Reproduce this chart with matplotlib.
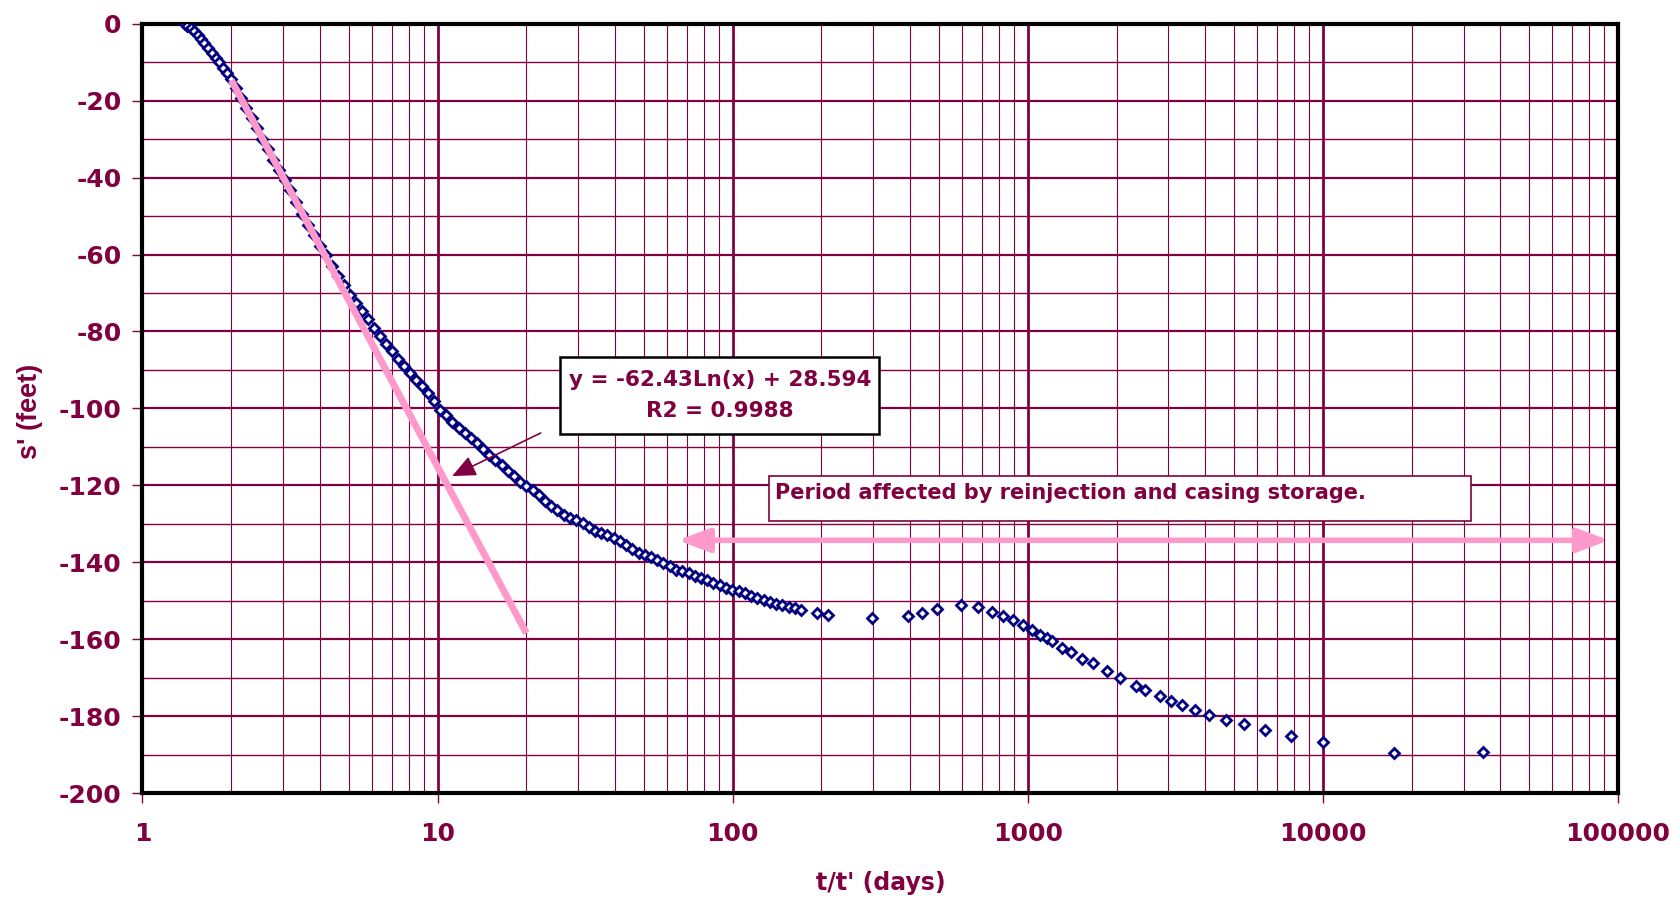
import numpy as np
import matplotlib.pyplot as plt
from matplotlib.patches import FancyArrowPatch, Rectangle
from matplotlib.ticker import FixedLocator, FixedFormatter, LogLocator, MultipleLocator, NullFormatter

plt.rcParams['font.family'] = ['DejaVu Sans']
plt.rcParams['font.weight'] = 'bold'
plt.rcParams['axes.unicode_minus'] = False

#%% data: t/t' (days) vs residual drawdown s' (feet)
t_ratio = [
    1.39, 1.42, 1.46, 1.50, 1.54, 1.58, 1.62, 1.67, 1.72, 1.77,
    1.82, 1.88, 1.94, 2.00, 2.08, 2.16, 2.25, 2.35, 2.45, 2.55,
    2.66, 2.78, 2.90, 3.03, 3.17, 3.32, 3.48, 3.64, 3.81, 3.99,
    4.18, 4.38, 4.59, 4.81, 5.04, 5.28, 5.53, 5.80, 6.08, 6.37,
    6.68, 7.00, 7.34, 7.70, 8.07, 8.46, 8.87, 9.30, 9.75, 10.2,
    10.7, 11.2, 11.8, 12.4, 13.0, 13.6, 14.3, 15.0, 15.7, 16.5,
    17.3, 18.2, 19.1, 20.0, 21.0, 22.0, 23.1, 24.3, 25.5, 26.8,
    28.1, 29.5, 31.0, 32.5, 34.1, 35.8, 37.6, 39.5, 41.5, 43.5,
    45.7, 48.0, 50.4, 52.9, 55.5, 58.3, 61.2, 64.3, 67.5, 70.9,
    74.4, 78.1, 82.0, 86.1, 90.4, 94.9, 99.7, 104.7, 109.9, 115.4,
    121.2, 127.3, 133.6, 140.3, 147.3, 154.7, 162.4, 170.5,
    192.6, 210.9, 295.8, 393.9, 437, 491, 593.7, 676, 758, 826,
    889, 961, 1031, 1100, 1167, 1205, 1303, 1400, 1523, 1660,
    1851, 2053, 2332, 2505, 2803, 3050, 3344, 3689, 4116, 4688,
    5399, 6387, 7791, 10016, 17481, 35044,
]
s_resid = [
    0.0, -0.5, -1.1, -2.0, -2.9, -4.0, -5.0, -6.3, -7.5, -8.8,
    -10.0, -11.5, -12.9, -14.3, -16.8, -19.3, -21.9, -24.6, -27.2, -29.9,
    -32.6, -35.3, -37.9, -40.5, -43.3, -46.3, -49.4, -52.2, -55.0, -57.7,
    -60.2, -63.0, -65.7, -68.0, -70.4, -72.6, -74.6, -76.8, -79.0, -81.1,
    -83.3, -85.2, -87.2, -89.0, -90.9, -92.6, -94.2, -96.0, -98.0, -100.4,
    -101.8, -103.5, -105.0, -106.5, -107.8, -109.0, -110.6, -112.0, -113.3, -114.8,
    -116.2, -117.6, -119.1, -120.2, -121.3, -122.6, -124.0, -125.3, -126.5, -127.6,
    -128.5, -129.1, -129.8, -130.8, -131.9, -132.4, -132.8, -133.6, -134.6, -135.5,
    -136.6, -137.5, -138.1, -138.7, -139.5, -140.3, -141.1, -141.9, -142.4, -142.9,
    -143.6, -144.1, -144.7, -145.4, -146.0, -146.6, -147.2, -147.6, -148.1, -148.9,
    -149.4, -149.9, -150.3, -150.8, -151.2, -151.6, -152.0, -152.4,
    -153.3, -153.7, -154.6, -153.9, -153.2, -152.2, -151.1, -151.7, -153.0, -153.9,
    -155.0, -156.3, -157.5, -158.8, -159.8, -160.4, -162.3, -163.3, -165.2, -166.3,
    -168.3, -170.0, -172.1, -173.3, -174.8, -176.1, -177.2, -178.5, -179.8, -181.0,
    -182.1, -183.7, -185.1, -186.8, -189.6, -189.3,
]

# excel log trendline on the early straight part
fit_slope = -62.43
fit_icept = 28.594
fit_r2 = 0.9988
fit_x = np.array([2.0, 20.0])

x_ticks = [1, 10, 100, 1000, 10000, 100000]
x_ticklabels = ['1', '10', '100', '1000', '10000', '100000']
y_ticks = list(range(-200, 1, 20))

maroon = '#800040'
navy = '#000080'
pink = '#FF99CC'

#%% plot
fig = plt.figure(figsize=(16.8, 8.99), dpi=100)
ax = fig.add_axes([0.0848, 0.1179, 0.8782, 0.8557])
ax.set_xscale('log')
ax.set_xlim(1, 1e5)
ax.set_ylim(-200, 0)

ax.xaxis.set_major_locator(FixedLocator(x_ticks))
ax.xaxis.set_major_formatter(FixedFormatter(x_ticklabels))
ax.xaxis.set_minor_locator(LogLocator(base=10, subs=np.arange(2, 10), numticks=30))
ax.xaxis.set_minor_formatter(NullFormatter())
ax.yaxis.set_major_locator(FixedLocator(y_ticks))
ax.yaxis.set_minor_locator(MultipleLocator(10))

ax.set_axisbelow(True)
ax.grid(which='major', axis='x', color=maroon, lw=2.0)
ax.grid(which='minor', axis='x', color=maroon, lw=0.8)
ax.grid(which='major', axis='y', color=maroon, lw=1.6)
ax.grid(which='minor', axis='y', color=maroon, lw=1.0)

ax.tick_params(which='major', direction='out', length=7, width=1, color=maroon,
               labelcolor=maroon, labelsize=18)
ax.tick_params(axis='x', which='major', pad=14)
ax.tick_params(axis='y', which='major', pad=8)
ax.tick_params(which='minor', length=0)
for sp in ax.spines.values():
    sp.set_linewidth(3)
    sp.set_color('black')

ax.plot(t_ratio, s_resid, ls='none', marker='D', ms=5.5, mfc='white', mec=navy,
        mew=2.0, zorder=3)
ax.plot(fit_x, fit_slope * np.log(fit_x) + fit_icept, color=pink, lw=5,
        solid_capstyle='butt', zorder=4)

# trendline label box
ax.add_patch(Rectangle((0.283, 0.4665), 0.2162, 0.1001, transform=ax.transAxes,
                       fc='white', ec='black', lw=1.8, zorder=6))
ax.text(0.3914, 0.5367, 'y = %.2fLn(x) + %.3f' % (fit_slope, fit_icept), transform=ax.transAxes,
        ha='center', va='center', fontsize=15.5, color=maroon, zorder=7)
ax.text(0.3914, 0.4968, 'R2 = %.4f' % fit_r2, transform=ax.transAxes,
        ha='center', va='center', fontsize=15.5, color=maroon, zorder=7)
ax.annotate('', xy=(11.21, -117.6), xytext=(22.36, -106.4),
            arrowprops=dict(arrowstyle='-|>,head_length=0.72,head_width=0.32', color=maroon,
                            lw=1.2, shrinkA=0, shrinkB=0, mutation_scale=20), zorder=6)

# reinjection note
ax.add_patch(Rectangle((0.4246, 0.3534), 0.4758, 0.0589, transform=ax.transAxes,
                       fc='white', ec=maroon, lw=1.2, zorder=6))
ax.text(0.4287, 0.3898, 'Period affected by reinjection and casing storage.', transform=ax.transAxes,
        ha='left', va='center', fontsize=15, color=maroon, zorder=7)
ax.add_patch(FancyArrowPatch((65.3, -134.3), (93200, -134.3),
                             arrowstyle='<|-|>,head_length=0.95,head_width=0.36',
                             mutation_scale=20, lw=4, color=pink, shrinkA=0, shrinkB=0, zorder=5))

fig.text(0.5242, 0.0181, "t/t' (days)", ha='center', va='center', fontsize=17, color=maroon)
fig.text(0.0179, 0.5428, "s' (feet)", rotation=90, ha='center', va='center', fontsize=19.5,
         color=maroon, family='Liberation Sans')

fig.savefig('out.png', dpi=100)
